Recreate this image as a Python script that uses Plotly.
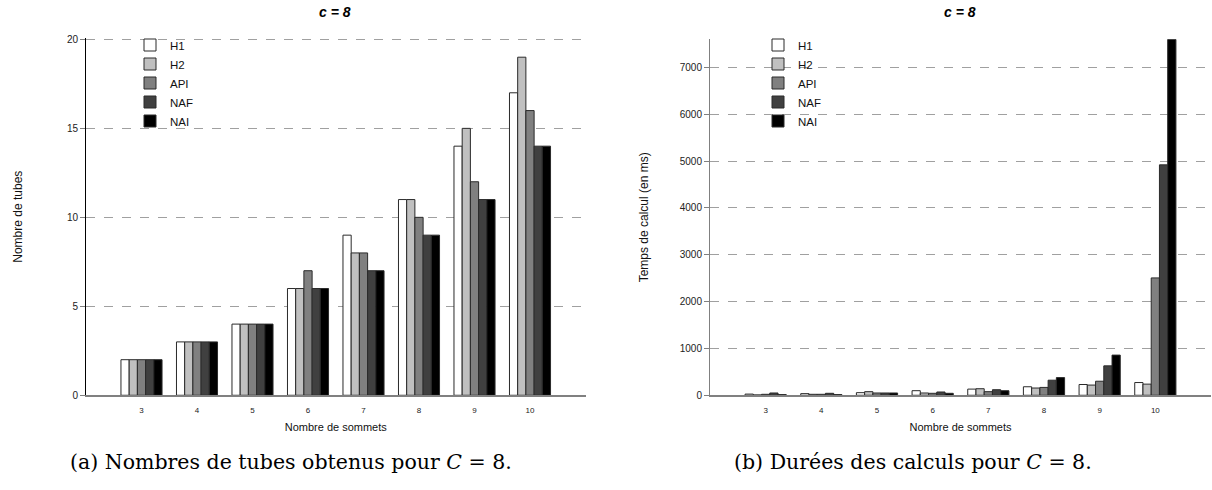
import plotly.graph_objects as go

# ---------------- data ----------------
categories = [3, 4, 5, 6, 7, 8, 9, 10]
series_names = ["H1", "H2", "API", "NAF", "NAI"]

tubes_H1 = [2, 3, 4, 6, 9, 11, 14, 17]
tubes_H2 = [2, 3, 4, 6, 8, 11, 15, 19]
tubes_API = [2, 3, 4, 7, 8, 10, 12, 16]
tubes_NAF = [2, 3, 4, 6, 7, 9, 11, 14]
tubes_NAI = [2, 3, 4, 6, 7, 9, 11, 14]

time_H1 = [25, 35, 56, 98, 132, 182, 230, 272]
time_H2 = [7, 21, 77, 49, 140, 155, 218, 238]
time_API = [21, 21, 49, 42, 77, 168, 300, 2506]
time_NAF = [49, 42, 49, 70, 119, 322, 628, 4920]
time_NAI = [14, 14, 49, 42, 98, 377, 858, 7600]

left_yticks = [0, 5, 10, 15, 20]
right_yticks = [0, 1000, 2000, 3000, 4000, 5000, 6000, 7000]

# ---------------- style ----------------
fills = ["#ffffff", "#c0c0c0", "#808080", "#404040", "#000000"]
SANS = "Liberation Sans, Arial, sans-serif"
SERIF = "DejaVu Serif, Liberation Serif, serif"

W, H = 1212, 490
def px_x(x):
    return x / W
def px_y(y):
    return 1 - y / H

fig = go.Figure()

tubes = [tubes_H1, tubes_H2, tubes_API, tubes_NAF, tubes_NAI]
times = [time_H1, time_H2, time_API, time_NAF, time_NAI]

for name, vals, col in zip(series_names, tubes, fills):
    fig.add_trace(go.Bar(
        x=categories, y=vals, name=name, xaxis="x", yaxis="y",
        marker=dict(color=col, line=dict(color="#2a2a2a", width=1)),
        legend="legend",
    ))
for name, vals, col in zip(series_names, times, fills):
    fig.add_trace(go.Bar(
        x=categories, y=vals, name=name, xaxis="x2", yaxis="y2",
        marker=dict(color=col, line=dict(color="#2a2a2a", width=1)),
        legend="legend2",
    ))

xcommon = dict(
    range=[2, 11], tickmode="array", tickvals=categories,
    ticktext=[str(c) for c in categories],
    showgrid=False, zeroline=False, showline=True,
    linecolor="#808080", linewidth=2,
    ticks="outside", ticklen=6, tickcolor="rgba(0,0,0,0)",
    tickfont=dict(family=SANS, size=8, color="#222"),
    title=dict(text="Nombre de sommets", font=dict(family=SANS, size=11, color="#111"), standoff=9),
)
ycommon = dict(
    showgrid=True, gridcolor="#a0a0a0", griddash="dash", gridwidth=1,
    zeroline=False, showline=True, linewidth=1,
    ticks="outside", ticklen=5, tickcolor="#808080",
    tickfont=dict(family=SANS, size=10, color="#222"),
)

legend_common = dict(xanchor="left", yanchor="top", bgcolor="rgba(0,0,0,0)",
                     font=dict(family=SANS, size=11.5, color="#111"),
                     tracegroupgap=0, itemwidth=30)

fig.update_layout(
    width=W, height=H,
    margin=dict(l=0, r=0, t=0, b=0),
    paper_bgcolor="white", plot_bgcolor="white",
    barmode="group", bargap=0.26, bargroupgap=0,
    xaxis=dict(domain=[px_x(86), px_x(585.5)], anchor="y", **xcommon),
    xaxis2=dict(domain=[px_x(710), px_x(1211)], anchor="y2", **xcommon),
    yaxis=dict(domain=[px_y(398.6), px_y(34.8)], anchor="x", range=[0, 20.07], tickvals=left_yticks,
               linecolor="#000000",
               title=dict(text="Nombre de tubes", font=dict(family=SANS, size=12, color="#111"), standoff=41),
               **ycommon),
    yaxis2=dict(domain=[px_y(398.6), px_y(36)], anchor="x2", range=[0, 7600], tickvals=right_yticks,
                linecolor="#808080",
                title=dict(text="Temps de calcul (en ms)", font=dict(family=SANS, size=12, color="#111"), standoff=28),
                **ycommon),
    legend=dict(x=px_x(130), y=px_y(27), **legend_common),
    legend2=dict(x=px_x(758), y=px_y(27), **legend_common),
    showlegend=True,
)

for cx in (335, 960):
    fig.add_annotation(text="<b><i>c = 8</i></b>", x=px_x(cx), y=px_y(8),
                       xref="paper", yref="paper", xanchor="center", yanchor="middle",
                       showarrow=False, font=dict(family=SANS, size=14, color="#000"))

fig.add_annotation(text="(a) Nombres de tubes obtenus pour <i>C</i> = 8.", x=px_x(291), y=px_y(467),
                   xref="paper", yref="paper", xanchor="center", yanchor="middle", showarrow=False,
                   font=dict(family=SERIF, size=20.5, color="#000"))
fig.add_annotation(text="(b) Durées des calculs pour <i>C</i> = 8.", x=px_x(913), y=px_y(467),
                   xref="paper", yref="paper", xanchor="center", yanchor="middle", showarrow=False,
                   font=dict(family=SERIF, size=20.5, color="#000"))

fig.write_html("out.html")
